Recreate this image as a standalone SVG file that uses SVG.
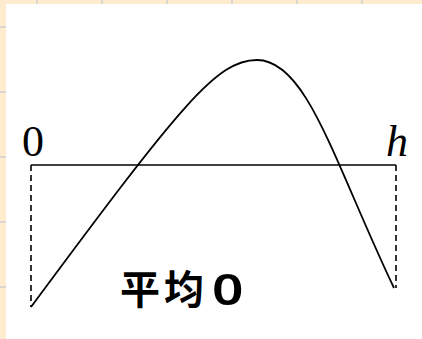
<svg xmlns="http://www.w3.org/2000/svg" width="422" height="339" viewBox="0 0 422 339">
<style>
.grid{stroke:#d9d6d0;stroke-width:2}
.axis{stroke:#000;stroke-width:1.6;fill:none}
.dash{stroke:#000;stroke-width:1.6;stroke-dasharray:6,4;fill:none}
.curve{stroke:#000;stroke-width:1.8;fill:none}
.lbl{font-family:"Liberation Serif","Times New Roman",serif;font-size:44px;fill:#000}
.cjk{font-family:"Noto Sans CJK SC","Noto Sans",sans-serif;font-size:40px;font-weight:bold;fill:#000}
.zero{font-family:"Noto Sans","Noto Sans CJK SC",sans-serif;font-size:43px;font-weight:600;fill:#000}
</style>
<rect x="0" y="0" width="422" height="339" fill="#ffebcd"/>
<g id="grid">
<path class="grid" d="M37,0V339M102,0V339M167,0V339M232,0V339M297,0V339M362,0V339M0,27H422M0,92H422M0,157H422M0,222H422M0,287H422"/>
</g>
<rect x="6" y="4" width="416" height="335" fill="#fff"/>
<g id="connectors">
<path id="axis" class="axis" d="M31,165H396"/>
<path id="dash-left" class="dash" d="M31,165V307"/>
<path id="dash-right" class="dash" d="M396,165V288"/>
<path id="curve" class="curve" d="M31,307C181,104.5 217,60 257,60C307,60 334,162 394,288"/>
</g>
<g id="label-0"><text class="lbl" x="33" y="156" text-anchor="middle">0</text></g>
<g id="label-h"><text class="lbl" x="386" y="156" font-style="italic">h</text></g>
<g id="label-mean"><text class="cjk" x="120" y="304" letter-spacing="4">平均</text><text class="zero" transform="translate(212,305) scale(1.28,1)">0</text></g>
</svg>
